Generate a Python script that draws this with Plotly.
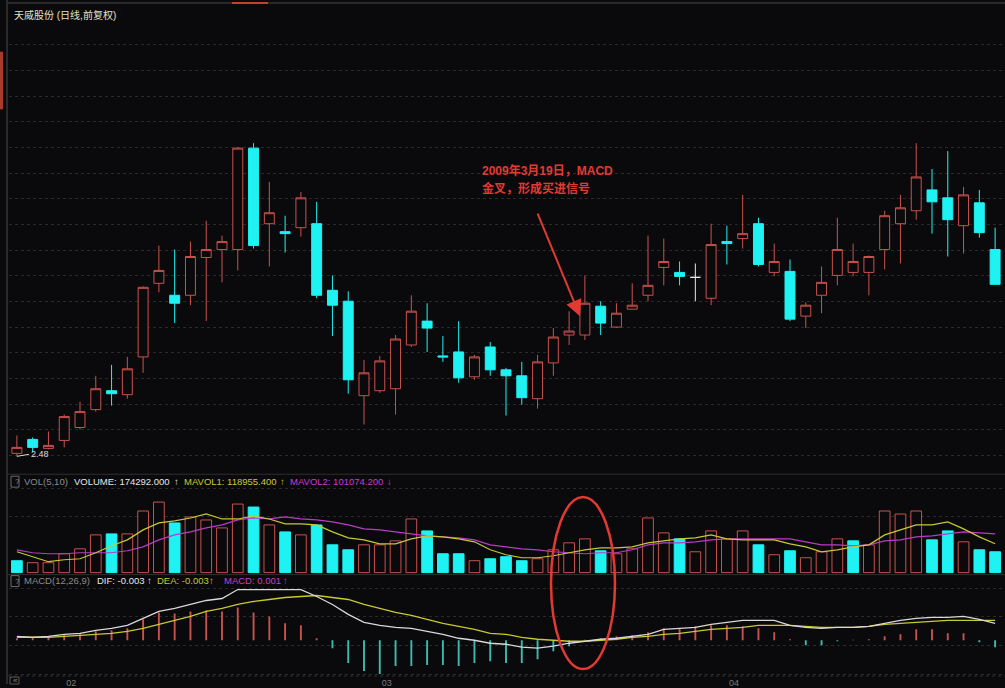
import plotly.graph_objects as go

W, H = 1005, 688

# ---------------- data ----------------
dates = [
    "2009-01-21", "2009-01-22", "2009-01-23",
    "2009-02-02", "2009-02-03", "2009-02-04", "2009-02-05", "2009-02-06",
    "2009-02-09", "2009-02-10", "2009-02-11", "2009-02-12", "2009-02-13",
    "2009-02-16", "2009-02-17", "2009-02-18", "2009-02-19", "2009-02-20",
    "2009-02-23", "2009-02-24", "2009-02-25", "2009-02-26", "2009-02-27",
    "2009-03-02", "2009-03-03", "2009-03-04", "2009-03-05", "2009-03-06",
    "2009-03-09", "2009-03-10", "2009-03-11", "2009-03-12", "2009-03-13",
    "2009-03-16", "2009-03-17", "2009-03-18", "2009-03-19", "2009-03-20",
    "2009-03-23", "2009-03-24", "2009-03-25", "2009-03-26", "2009-03-27",
    "2009-03-30", "2009-03-31",
    "2009-04-01", "2009-04-02", "2009-04-03",
    "2009-04-07", "2009-04-08", "2009-04-09", "2009-04-10",
    "2009-04-13", "2009-04-14", "2009-04-15", "2009-04-16", "2009-04-17",
    "2009-04-20", "2009-04-21", "2009-04-22", "2009-04-23", "2009-04-24",
    "2009-04-27",
]

open_ = [2.51, 2.65, 2.56, 2.64, 2.77, 2.95, 3.14, 3.10, 3.48, 4.22,
         4.10, 4.10, 4.48, 4.56, 4.56, 5.58, 4.82, 4.74, 4.78, 4.82,
         4.15, 4.04, 3.09, 3.14, 3.16, 3.60, 3.84, 3.49, 3.53, 3.28,
         3.58, 3.35, 3.29, 3.06, 3.42, 3.70, 3.70, 3.99, 3.78, 3.96,
         4.10, 4.38, 4.33, 4.28, 4.07, 4.64, 4.67, 4.82, 4.33, 4.34,
         3.89, 4.10, 4.30, 4.33, 4.33, 4.56, 4.82, 4.95, 5.16, 5.08,
         4.80, 5.03, 4.56]
high = [2.69, 2.67, 2.73, 2.90, 3.03, 3.29, 3.40, 3.48, 4.19, 4.60,
        4.56, 4.64, 4.85, 4.70, 5.59, 5.63, 5.24, 4.90, 5.14, 5.04,
        4.30, 4.14, 3.45, 3.49, 3.70, 4.10, 4.02, 3.69, 3.84, 3.50,
        3.63, 3.37, 3.43, 3.50, 3.77, 3.94, 4.30, 4.04, 4.02, 4.22,
        4.70, 4.67, 4.44, 4.42, 4.82, 4.80, 5.11, 4.88, 4.62, 4.46,
        4.03, 4.39, 4.88, 4.62, 4.50, 4.95, 5.11, 5.63, 5.37, 5.55,
        5.19, 5.16, 4.78]
low = [2.48, 2.52, 2.55, 2.57, 2.75, 2.93, 2.99, 3.06, 3.32, 4.13,
       3.82, 4.00, 3.84, 4.23, 4.35, 4.57, 4.39, 4.53, 4.69, 4.07,
       3.69, 3.11, 2.80, 3.12, 2.90, 3.58, 3.53, 3.43, 3.22, 3.25,
       3.29, 2.89, 3.00, 2.96, 3.29, 3.60, 3.65, 3.70, 3.77, 3.96,
       4.04, 4.20, 4.20, 4.04, 4.00, 4.41, 4.57, 4.39, 4.29, 3.84,
       3.77, 3.92, 4.20, 4.29, 4.10, 4.36, 4.42, 4.86, 4.72, 4.49,
       4.52, 4.68, 4.21]
close = [2.57, 2.57, 2.59, 2.88, 2.93, 3.16, 3.11, 3.36, 4.18, 4.35,
         4.02, 4.49, 4.56, 4.64, 5.58, 4.60, 4.93, 4.72, 5.08, 4.10,
         4.00, 3.25, 3.32, 3.44, 3.66, 3.94, 3.77, 3.48, 3.27, 3.48,
         3.35, 3.29, 3.07, 3.43, 3.68, 3.74, 4.02, 3.82, 3.92, 4.00,
         4.20, 4.44, 4.29, 4.28, 4.61, 4.62, 4.72, 4.41, 4.44, 3.86,
         4.00, 4.23, 4.56, 4.44, 4.49, 4.90, 4.98, 5.29, 5.04, 4.86,
         5.11, 4.73, 4.21]

volume = [48000, 40000, 40000, 76000, 96000, 152000, 156000, 156000, 248000, 284000,
          200000, 224000, 212000, 180000, 276000, 264000, 192000, 164000, 152000, 192000,
          112000, 92000, 112000, 112000, 128000, 216000, 168000, 76000, 76000, 48000,
          56000, 64000, 48000, 56000, 92000, 120000, 136000, 88000, 76000, 96000,
          220000, 160000, 136000, 84000, 168000, 136000, 168000, 112000, 72000, 88000,
          60000, 84000, 136000, 128000, 112000, 248000, 236000, 248000, 132000, 168000,
          124000, 92000, 84000]
vol_dir = list("DUUUUUDUUU" "DUUUUDUDUD" "DDUUUUDDDU" "DDDUUUUDUU"
               "UUDUUUUDUD" "UUUDUUUUDD" "UDD")
mavol5 = [84000, 64000, 44000, 52000, 56000, 80000, 108000, 132000, 172000, 200000,
          208000, 220000, 236000, 216000, 216000, 228000, 216000, 196000, 196000, 192000,
          164000, 140000, 132000, 116000, 116000, 136000, 148000, 144000, 136000, 124000,
          92000, 72000, 60000, 60000, 68000, 80000, 92000, 100000, 100000, 104000,
          120000, 128000, 136000, 140000, 152000, 136000, 132000, 132000, 132000, 116000,
          104000, 84000, 92000, 104000, 112000, 152000, 172000, 192000, 192000, 204000,
          176000, 144000, 116000]
mavol10 = [92000, 80000, 76000, 76000, 80000, 80000, 80000, 88000, 104000, 132000,
           152000, 164000, 180000, 192000, 212000, 220000, 216000, 224000, 216000, 212000,
           204000, 192000, 176000, 172000, 164000, 156000, 148000, 144000, 140000, 132000,
           112000, 104000, 96000, 92000, 84000, 80000, 76000, 80000, 80000, 92000,
           112000, 120000, 120000, 124000, 132000, 136000, 136000, 136000, 136000, 136000,
           124000, 112000, 112000, 108000, 112000, 128000, 132000, 144000, 148000, 156000,
           164000, 160000, 156000]

dif = [0.020, 0.015, 0.020, 0.030, 0.035, 0.050, 0.060, 0.075, 0.110, 0.145,
       0.160, 0.180, 0.200, 0.210, 0.255, 0.255, 0.255, 0.255, 0.255, 0.220,
       0.180, 0.130, 0.090, 0.075, 0.065, 0.060, 0.045, 0.030, 0.010, 0.000,
       -0.015, -0.020, -0.035, -0.040, -0.030, -0.015, -0.005, 0.005, 0.010, 0.020,
       0.030, 0.055, 0.060, 0.065, 0.080, 0.090, 0.100, 0.100, 0.100, 0.075,
       0.065, 0.060, 0.065, 0.065, 0.070, 0.085, 0.100, 0.110, 0.115, 0.115,
       0.120, 0.105, 0.085]
dea = [0.015, 0.015, 0.015, 0.020, 0.025, 0.030, 0.035, 0.045, 0.060, 0.080,
       0.100, 0.120, 0.145, 0.160, 0.180, 0.195, 0.205, 0.215, 0.220, 0.225,
       0.215, 0.205, 0.180, 0.160, 0.140, 0.125, 0.105, 0.085, 0.070, 0.055,
       0.035, 0.030, 0.015, 0.005, 0.000, -0.005, -0.005, 0.000, 0.005, 0.015,
       0.020, 0.030, 0.035, 0.045, 0.055, 0.060, 0.065, 0.075, 0.075, 0.075,
       0.070, 0.065, 0.065, 0.065, 0.070, 0.080, 0.085, 0.090, 0.095, 0.100,
       0.100, 0.100, 0.100]
macd_hist = [0.010, 0.015, 0.020, 0.025, 0.030, 0.045, 0.050, 0.060, 0.105, 0.140,
             0.135, 0.145, 0.150, 0.145, 0.165, 0.140, 0.120, 0.085, 0.075, 0.010,
             -0.040, -0.115, -0.155, -0.170, -0.130, -0.130, -0.125, -0.125, -0.130, -0.115,
             -0.105, -0.115, -0.115, -0.095, -0.055, -0.030, 0.002, 0.010, 0.020, 0.025,
             0.040, 0.060, 0.060, 0.070, 0.075, 0.075, 0.070, 0.060, 0.040, 0.005,
             -0.025, -0.025, -0.005, 0.003, 0.005, 0.020, 0.030, 0.055, 0.055, 0.035,
             0.035, -0.010, -0.035]

tick_dates = ["2009-02-02", "2009-03-02", "2009-04-01"]
tick_text = ["02", "03", "04"]

# ---------------- styles ----------------
BG = "#0a0a0c"
RED = "#c8524e"
CYAN = "#1ff2f2"
TEAL = "#3cbcae"
WHITE = "#d8d8d8"
YEL = "#c8c832"
MAG = "#b83cc4"
GRID = "#2a2a2a"
FONT = "Liberation Sans, Arial, Noto Sans CJK SC, sans-serif"


def py(p):
    return 1 - p / H


def px(p):
    return p / W


def sel(mask, arr):
    return [v if m else None for v, m in zip(arr, mask)]


up = [c > o for o, c in zip(open_, close)]
dn = [c < o for o, c in zip(open_, close)]
fl = [c == o for o, c in zip(open_, close)]

fig = go.Figure()


def candle(mask, line_col, fill_col):
    fig.add_trace(go.Candlestick(
        x=dates, open=sel(mask, open_), high=sel(mask, high),
        low=sel(mask, low), close=sel(mask, close),
        increasing=dict(line=dict(color=line_col, width=1), fillcolor=fill_col),
        decreasing=dict(line=dict(color=line_col, width=1), fillcolor=fill_col),
        xaxis="x", yaxis="y", showlegend=False, hoverinfo="skip"))


candle(up, RED, BG)
candle(dn, CYAN, CYAN)
candle(fl, "#e8e8e8", "#e8e8e8")

# volume
fig.add_trace(go.Bar(
    x=dates, y=volume, width=0.68, xaxis="x", yaxis="y2",
    marker=dict(color=[CYAN if d == "D" else BG for d in vol_dir],
                line=dict(color=[CYAN if d == "D" else RED for d in vol_dir], width=1)),
    showlegend=False, hoverinfo="skip"))
fig.add_trace(go.Scatter(x=dates, y=mavol10, mode="lines", line=dict(color=MAG, width=1.2),
                         xaxis="x", yaxis="y2", showlegend=False, hoverinfo="skip"))
fig.add_trace(go.Scatter(x=dates, y=mavol5, mode="lines", line=dict(color=YEL, width=1.2),
                         xaxis="x", yaxis="y2", showlegend=False, hoverinfo="skip"))

# macd
fig.add_trace(go.Bar(
    x=dates, y=macd_hist, width=0.12, xaxis="x", yaxis="y3",
    marker=dict(color=[RED if v >= 0 else TEAL for v in macd_hist], line=dict(width=0)),
    showlegend=False, hoverinfo="skip"))
fig.add_trace(go.Scatter(x=dates, y=dea, mode="lines", line=dict(color=YEL, width=1.3),
                         xaxis="x", yaxis="y3", showlegend=False, hoverinfo="skip"))
fig.add_trace(go.Scatter(x=dates, y=dif, mode="lines", line=dict(color=WHITE, width=1.3),
                         xaxis="x", yaxis="y3", showlegend=False, hoverinfo="skip"))

# ---------------- layout ----------------
yax_common = dict(showticklabels=False, zeroline=False, showline=False, ticks="",
                  gridcolor=GRID, griddash="dot", gridwidth=1, fixedrange=True)

fig.update_layout(
    width=W, height=H, margin=dict(l=0, r=0, t=0, b=0),
    paper_bgcolor=BG, plot_bgcolor=BG,
    boxgap=0.37, boxgroupgap=0, barmode="overlay",
    hovermode=False, showlegend=False,
    font=dict(family=FONT, color="#888888", size=9),
    xaxis=dict(domain=[px(9), px(1003)], type="category",
               categoryorder="array", categoryarray=dates,
               range=[-0.5, len(dates) - 0.5], anchor="y3",
               rangeslider=dict(visible=False), showgrid=False, zeroline=False,
               showline=False, ticks="", tickmode="array", fixedrange=True,
               tickvals=tick_dates, ticktext=tick_text, ticklabelshift=7,
               ticklabelstandoff=0,
               tickfont=dict(size=9, color="#7c7c7c", family=FONT)),
    yaxis=dict(domain=[py(476), py(8)], range=[2.31, 6.99],
               tickmode="array", tickvals=[round(2.49 + 0.258 * k, 3) for k in range(17)],
               **yax_common),
    yaxis2=dict(domain=[py(577), py(477)], range=[-4000, 396000],
                tickmode="array", tickvals=[224000, 340000], **yax_common),
    yaxis3=dict(domain=[py(680), py(579)], range=[-0.18, 0.325],
                tickmode="array", tickvals=[0.26, 0.12, -0.025, -0.17], **yax_common),
)

shapes = []
# panel separators and frame
for yy, dash in [(477, "solid"), (578, "solid"), (680, "dot")]:
    shapes.append(dict(type="line", xref="paper", yref="paper", x0=px(8), x1=px(1005),
                       y0=py(yy), y1=py(yy), line=dict(color="#303030", width=1, dash=dash)))
shapes.append(dict(type="line", xref="paper", yref="paper", x0=px(7), x1=px(7),
                   y0=0, y1=1, line=dict(color="#2a2a2a", width=2)))
shapes.append(dict(type="line", xref="paper", yref="paper", x0=px(8), x1=px(1005),
                   y0=py(3), y1=py(3), line=dict(color="#4a4a4a", width=1)))
shapes.append(dict(type="line", xref="paper", yref="paper", x0=px(232), x1=px(268),
                   y0=py(3), y1=py(3), line=dict(color="#c0442c", width=2)))
shapes.append(dict(type="rect", xref="paper", yref="paper", x0=0, x1=px(3),
                   y0=py(110), y1=py(52), line=dict(width=0), fillcolor="#a83a2a"))
# "?" boxes and bottom-left box
for y0, y1 in [(479, 490), (579, 590)]:
    shapes.append(dict(type="rect", xref="paper", yref="paper", x0=px(11), x1=px(19),
                       y0=py(y1), y1=py(y0), line=dict(color="#6a6a6a", width=1)))
shapes.append(dict(type="rect", xref="paper", yref="paper", x0=px(10), x1=px(19),
                   y0=py(688), y1=py(681), line=dict(color="#5a5a5a", width=1)))
# red ellipse highlighting the golden cross
shapes.append(dict(type="circle", xref="paper", yref="paper", x0=px(551), x1=px(615),
                   y0=py(673), y1=py(500), line=dict(color="#e23a33", width=2.5)))
fig.update_layout(shapes=shapes)


def txt(x, y, s, color, size=9.5, bold=False):
    return dict(xref="paper", yref="paper", x=px(x), y=py(y), text=("<b>%s</b>" % s) if bold else s,
                showarrow=False, xanchor="left", yanchor="middle",
                font=dict(family=FONT, size=size, color=color))


ann = [
    txt(12, 15, "天威股份 (日线,前复权)", "#e2e2cc", size=10),
    txt(12.5, 484.5, "?", "#8a8a8a", size=8),
    txt(22, 484, "VOL(5,10)", "#8a8a8a"),
    txt(72, 484, "VOLUME: 174292.000", "#e6e6e6"),
    txt(172, 484, "↑", "#e6e6e6"),
    txt(182, 484, "MAVOL1: 118955.400", YEL),
    txt(278, 484, "↑", YEL),
    txt(288, 484, "MAVOL2: 101074.200", "#c83cd0"),
    txt(385, 484, "↓", "#c83cd0"),
    txt(12.5, 584.5, "?", "#8a8a8a", size=8),
    txt(22, 584, "MACD(12,26,9)", "#8a8a8a"),
    txt(95, 584, "DIF: -0.003", "#e6e6e6"),
    txt(145, 584, "↑", "#e6e6e6"),
    txt(155, 584, "DEA: -0.003", YEL),
    txt(207, 584, "↑", YEL),
    txt(222, 584, "MACD: 0.001", "#c83cd0"),
    txt(281, 584, "↑", "#c83cd0"),
    txt(11, 684.5, "«", "#8a8a8a", size=8),
    txt(480, 171, "2009年3月19日，MACD", "#e23a33", size=12, bold=True),
    txt(480, 190, "金叉，形成买进信号", "#e23a33", size=12, bold=True),
    dict(xref="paper", yref="paper", x=px(580), y=py(318), ax=-43, ay=-104,
         showarrow=True, arrowhead=2, arrowsize=1.6, arrowwidth=2, arrowcolor="#e23a33",
         text="", standoff=0),
    dict(x=dates[0], y=low[0], xref="x", yref="y", text="2.48", showarrow=True,
         arrowhead=0, arrowwidth=1, arrowcolor="#dcdcdc", ax=12, ay=-2,
         xanchor="left", yanchor="middle",
         font=dict(family=FONT, size=9, color="#dcdcdc")),
]
fig.update_layout(annotations=ann)

fig.write_html(
    "out.html",
    config={"displayModeBar": False, "staticPlot": True},
    post_script="document.body.style.margin='0';document.body.style.padding='0';"
                "document.body.style.background='%s';" % BG,
)
